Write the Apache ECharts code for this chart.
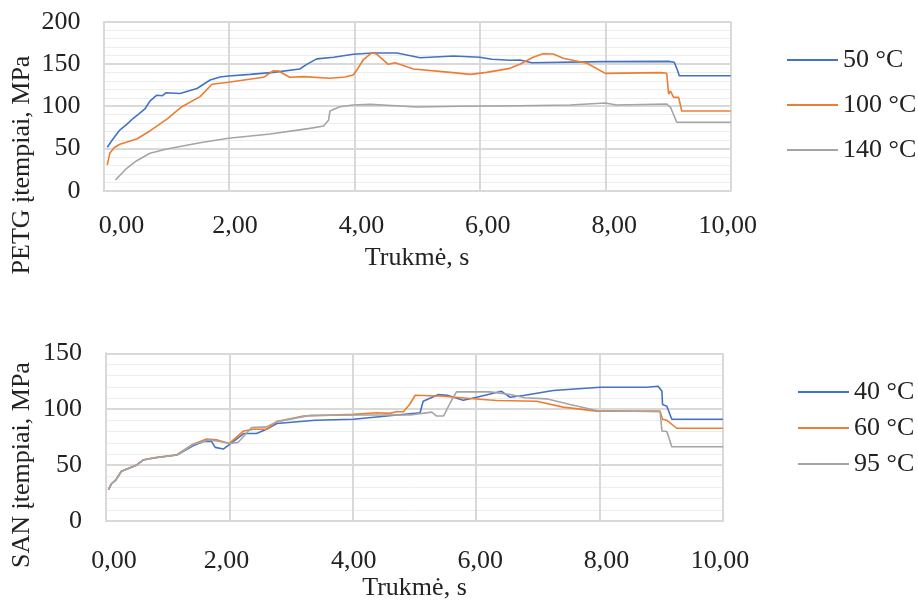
<!DOCTYPE html>
<html><head><meta charset="utf-8">
<script src="https://cdn.jsdelivr.net/npm/echarts@6/dist/echarts.min.js"></script>
<style>html,body{margin:0;padding:0;background:#fff}#c{width:918px;height:602px}</style>
</head><body><div id="c"></div>
<script>
const petgNames = ['50 °C', '100 °C', '140 °C'];
const sanNames = ['40 °C', '60 °C', '95 °C'];
const colors = ['#4472C4', '#ED7D31', '#A5A5A5'];
const xTitle = 'Trukmė, s';
const petgTitle = 'PETG įtempiai, MPa';
const sanTitle = 'SAN įtempiai, MPa';

const petg50 = [[0.06,51.4],[0.16,62],[0.26,71.8],[0.37,78.5],[0.475,85.7],[0.56,90.5],[0.66,96.7],[0.74,106],[0.85,113],[0.94,112.4],[0.96,110.5],[1.0,116],[1.22,115],[1.49,121],[1.70,131],[1.86,134.5],[1.99,135.7],[2.34,137.7],[2.71,140],[3.13,144],[3.24,149.5],[3.40,156],[3.67,158],[3.98,161.4],[4.30,163],[4.68,163],[5.05,157.4],[5.58,159.4],[6.0,157.9],[6.19,155.5],[6.48,154.3],[6.64,154.7],[6.83,151.5],[7.97,152.7],[9.01,153],[9.10,152],[9.15,142.8],[9.18,136],[10,136]];
const petg100 = [[0.06,30.4],[0.10,44.2],[0.17,50.9],[0.26,54.9],[0.53,61.2],[0.74,70.7],[1.01,84.8],[1.25,99.4],[1.54,111.3],[1.73,125.9],[1.99,128.3],[2.55,134.2],[2.71,142],[2.79,141.7],[2.97,134.2],[3.19,135],[3.61,133],[3.85,134.5],[3.98,137],[4.04,142.8],[4.14,154.7],[4.28,163.3],[4.36,161.4],[4.54,149.6],[4.65,151.5],[4.94,144],[5.53,140],[5.85,137.7],[6.11,140],[6.48,144.8],[6.64,149.6],[6.85,157.9],[7.01,162.1],[7.17,161.8],[7.33,156.7],[7.71,150.8],[8.0,138.9],[8.88,139.7],[8.98,138.9],[9.01,114.4],[9.04,118],[9.09,110.5],[9.17,110.5],[9.19,111.2],[9.22,94.3],[10,94.3]];
const petg140 = [[0.19,12.7],[0.37,26.5],[0.53,35.5],[0.74,44.3],[1.01,49.3],[1.54,56.8],[1.99,62],[2.66,67.1],[3.29,73.8],[3.51,76.6],[3.59,83.7],[3.61,94.3],[3.77,99.4],[3.98,101.4],[4.25,102.2],[4.73,100.2],[4.99,99],[5.69,99.9],[6.64,100.6],[7.44,101.4],[8.0,103.8],[8.18,101.4],[8.98,102.6],[9.04,98.7],[9.14,81],[10,81]];

const san40 = [[0.04,28.1],[0.09,33.4],[0.16,36.9],[0.25,44.6],[0.50,50.2],[0.60,54.6],[0.77,56.4],[1.15,59.1],[1.41,67.3],[1.58,71.2],[1.71,71.2],[1.77,65.9],[1.90,64.4],[2.01,68.8],[2.23,78.3],[2.44,78.3],[2.60,82.1],[2.77,87.2],[3.39,90.1],[4.01,91],[5.09,96.9],[5.14,107.2],[5.39,113.1],[5.53,112.5],[5.79,108.1],[6.01,110.7],[6.41,116],[6.55,110.7],[6.79,112.5],[7.25,116.7],[8.01,119.6],[8.76,119.6],[8.95,120.5],[9.01,116],[9.02,104.2],[9.09,102.7],[9.17,91],[10,91]];
const san60 = [[0.04,28.1],[0.09,33.4],[0.16,36.9],[0.25,44.6],[0.50,50.2],[0.60,54.6],[0.77,56.6],[1.15,59.3],[1.41,68.8],[1.63,73.3],[1.79,72.6],[2.00,69.4],[2.23,80.6],[2.39,82.1],[2.60,82.1],[2.77,88.9],[3.20,93.9],[4.01,95.4],[4.39,96.9],[4.60,96.3],[4.71,97.8],[4.82,97.8],[4.92,104.2],[5.01,112.5],[5.47,111.6],[5.90,109.6],[6.33,107.8],[6.98,107.2],[7.41,101.9],[7.95,98.3],[8.98,98.3],[9.02,91],[9.09,90.1],[9.25,83],[10,83]];
const san95 = [[0.04,28.1],[0.09,33.4],[0.16,36.9],[0.25,44.6],[0.50,50.2],[0.60,54.6],[0.77,56.4],[1.15,59.1],[1.41,68.5],[1.66,72.6],[1.85,71.2],[2.01,69.4],[2.14,70.3],[2.36,83.6],[2.60,84.2],[2.77,88.9],[3.31,94.5],[4.12,94.8],[4.93,94.8],[5.28,97.4],[5.36,93.9],[5.47,93.9],[5.58,105.8],[5.68,115.5],[6.22,115.5],[6.55,113.1],[6.79,110.2],[7.14,109.3],[7.52,104.2],[7.95,98.9],[8.98,97.8],[9.01,80.6],[9.09,80.1],[9.17,66.4],[10,66.4]];

// horizontal nudges of the x tick labels (px), as in the reference rendering
const petgLabelShift = [18, 6, 7, 8, 9, -3];
const sanLabelShift = [8, -3, 1, 4, 7, -3];

const FONT = '"Liberation Serif", "Times New Roman", serif';
const TXT = '#222';
const chart = echarts.init(document.getElementById('c'));

function xAx(gi, gap, margin, shifts) {
  const rich = {};
  shifts.forEach((s, i) => {
    rich['o' + i] = {fontFamily: FONT, fontSize: 26, color: TXT,
      padding: s >= 0 ? [0, 0, 0, 2 * s] : [0, -2 * s, 0, 0]};
  });
  return {
    type: 'value', gridIndex: gi, min: 0, max: 10, interval: 2,
    name: xTitle, nameLocation: 'middle', nameGap: gap,
    nameTextStyle: {fontFamily: FONT, fontSize: 26, color: TXT},
    axisLine: {show: true, lineStyle: {color: '#D9D9D9', width: 2}},
    axisTick: {show: false},
    axisLabel: {fontFamily: FONT, fontSize: 26, color: TXT, margin: margin, rich: rich,
      formatter: v => '{o' + Math.round(v / 2) + '|' + v.toFixed(2).replace('.', ',') + '}'},
    splitLine: {show: true, lineStyle: {color: '#D9D9D9', width: 2}}
  };
}
function yAx(gi, max, margin) {
  return {
    type: 'value', gridIndex: gi, min: 0, max: max, interval: 50,
    axisLine: {show: true, lineStyle: {color: '#D9D9D9', width: 2}},
    axisTick: {show: false},
    axisLabel: {fontFamily: FONT, fontSize: 26, color: TXT, margin: margin},
    splitLine: {show: true, lineStyle: {color: '#D9D9D9', width: 2}},
    minorTick: {show: false, splitNumber: 5},
    minorSplitLine: {show: true, lineStyle: {color: '#EDEDED', width: 1}}
  };
}
function ser(name, data, ci, gi) {
  return {name, type: 'line', data, xAxisIndex: gi, yAxisIndex: gi,
    symbol: 'none', smooth: false, animation: false,
    lineStyle: {color: colors[ci], width: 1.6}, itemStyle: {color: colors[ci]}};
}
function leg(names, left, top, gap) {
  return {data: names, orient: 'vertical', left, top, itemWidth: 51, itemHeight: 14,
    itemGap: gap, icon: 'path://M0,6 L51,6 L51,8 L0,8 Z',
    textStyle: {fontFamily: FONT, fontSize: 26, color: TXT}};
}

chart.setOption({
  animation: false,
  backgroundColor: '#fff',
  grid: [
    {left: 103.5, top: 21.7, width: 627.2, height: 169},
    {left: 106, top: 353.3, width: 617, height: 169.4}
  ],
  xAxis: [xAx(0, 54, 22, petgLabelShift), xAx(1, 53, 27, sanLabelShift)],
  yAxis: [yAx(0, 200, 23), yAx(1, 150, 24)],
  legend: [leg(petgNames, 782, 42, 19), leg(sanNames, 793, 374, 10)],
  graphic: [
    {type: 'text', x: 22, y: 165, rotation: Math.PI/2, style: {text: petgTitle, font: '26px ' + FONT, fill: TXT, align: 'center', verticalAlign: 'middle'}},
    {type: 'text', x: 22, y: 465, rotation: Math.PI/2, style: {text: sanTitle, font: '26px ' + FONT, fill: TXT, align: 'center', verticalAlign: 'middle'}}
  ],
  series: [
    ser(petgNames[0], petg50, 0, 0), ser(petgNames[1], petg100, 1, 0), ser(petgNames[2], petg140, 2, 0),
    ser(sanNames[0], san40, 0, 1), ser(sanNames[1], san60, 1, 1), ser(sanNames[2], san95, 2, 1)
  ]
});
</script></body></html>
